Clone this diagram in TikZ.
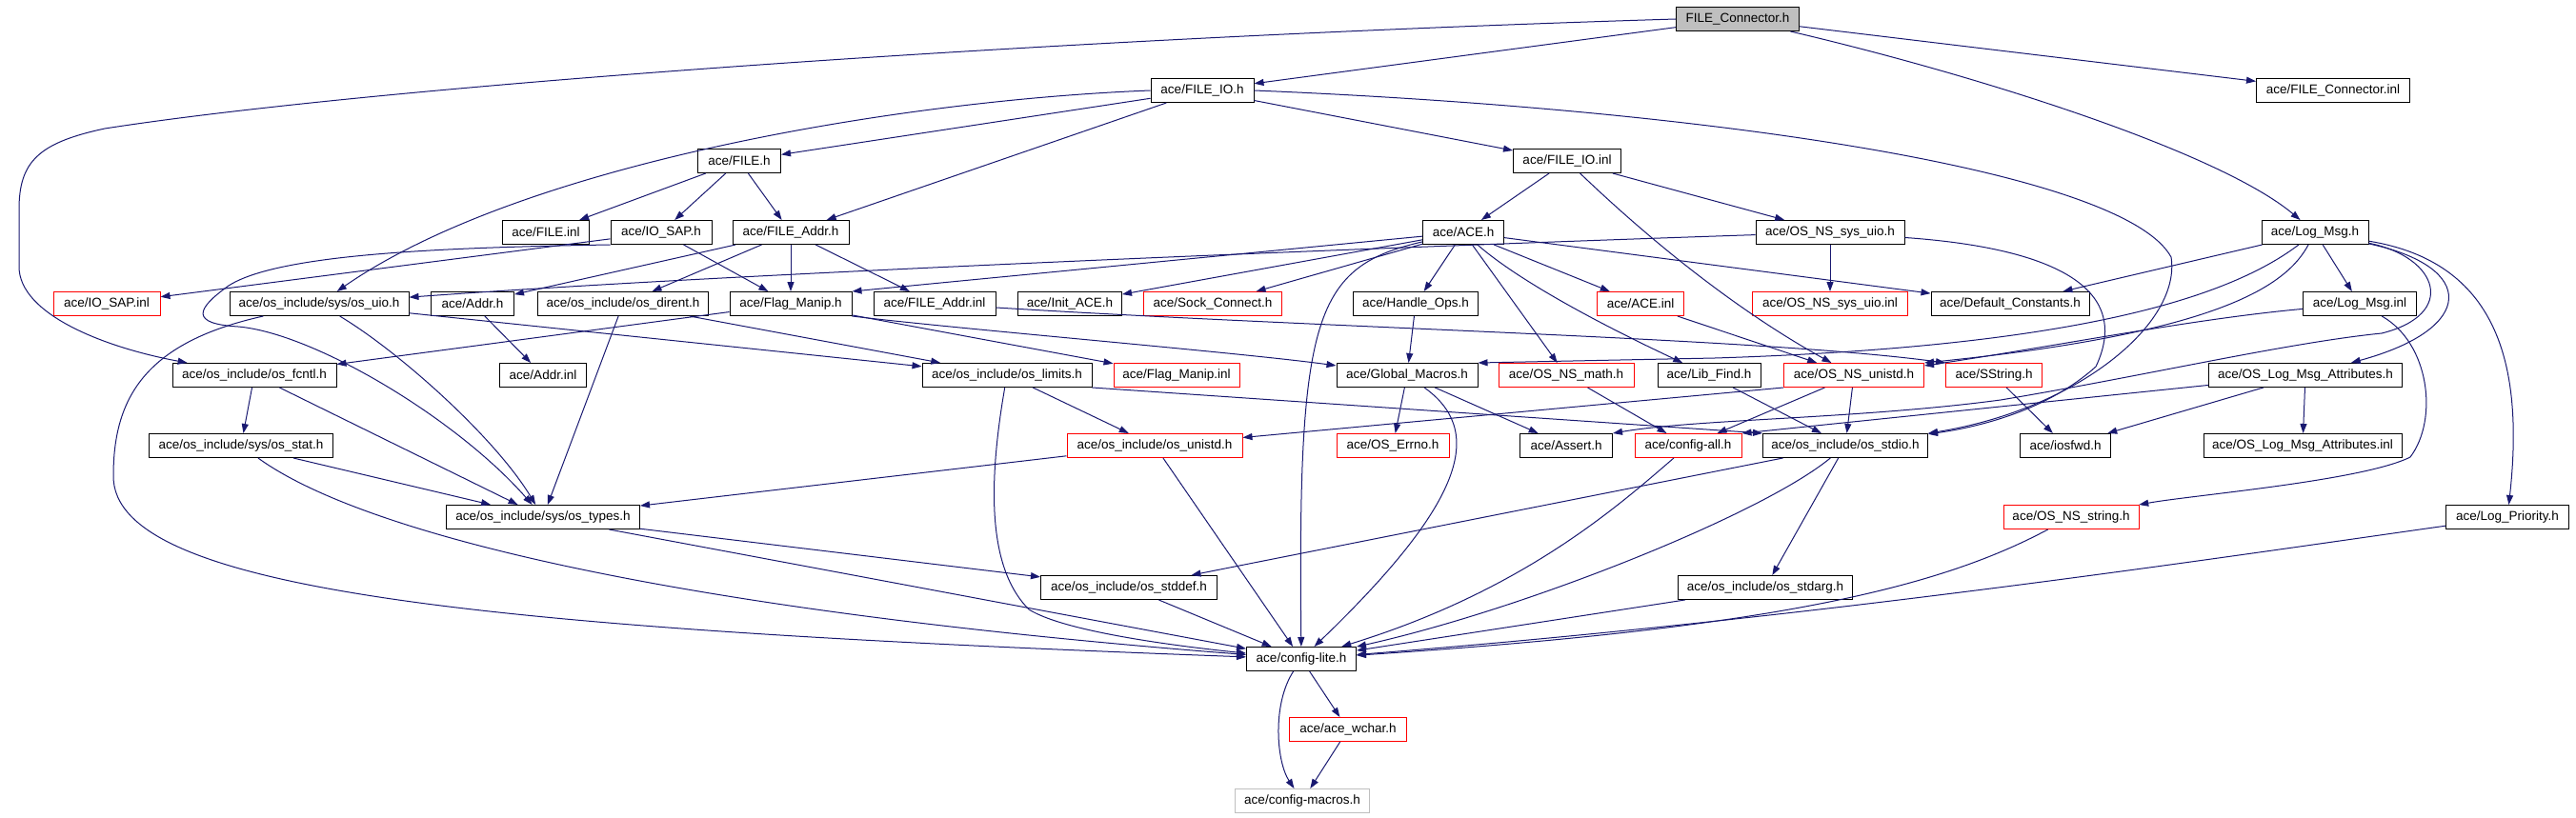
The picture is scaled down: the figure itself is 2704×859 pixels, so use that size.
\documentclass[tikz,border=0pt]{standalone}
\usepackage{fontspec}
\setmainfont{Liberation Sans}
\usetikzlibrary{arrows.meta}
\definecolor{incblue}{HTML}{191970}
\definecolor{rootgrey}{HTML}{BFBFBF}

\begin{document}
\begin{tikzpicture}[x=1pt, y=-1pt,
    box/.style={draw=black, line width=1pt, minimum height=25, inner sep=0pt,
                font=\fontsize{13.5}{16}\selectfont},
    rootbox/.style={box, fill=rootgrey},
    redbox/.style={box, draw=red},
    greybox/.style={box, draw=rootgrey},
    inc/.style={draw=incblue, line width=1pt, -{Triangle[length=10pt, width=7pt]}}]
\useasboundingbox (0,0) rectangle (2704,859);

%%   kw   [style, width]   (name)   at (x, y)   {text}
    \node[rootbox, minimum width=129] (fc)       at (1824, 20)  {FILE\_Connector.h};

    \node[box, minimum width=108]     (fio)      at (1262, 95)  {ace/FILE\_IO.h};
    \node[box, minimum width=161]     (fcinl)    at (2449, 95)  {ace/FILE\_Connector.inl};

    \node[box, minimum width=87]      (fileh)    at (776, 169)  {ace/FILE.h};
    \node[box, minimum width=113]     (fioinl)   at (1645, 169) {ace/FILE\_IO.inl};

    \node[box, minimum width=91]      (fileinl)  at (573, 244)  {ace/FILE.inl};
    \node[box, minimum width=106]     (iosap)    at (694, 244)  {ace/IO\_SAP.h};
    \node[box, minimum width=122]     (faddr)    at (830, 244)  {ace/FILE\_Addr.h};
    \node[box, minimum width=85]      (ace)      at (1536, 244) {ace/ACE.h};
    \node[box, minimum width=156]     (nssysuio) at (1921, 244) {ace/OS\_NS\_sys\_uio.h};
    \node[box, minimum width=112]     (logmsg)   at (2430, 244) {ace/Log\_Msg.h};

    \node[redbox, minimum width=112]  (iosapinl) at (112, 319)  {ace/IO\_SAP.inl};
    \node[box, minimum width=188]     (uio)      at (335, 319)  {ace/os\_include/sys/os\_uio.h};
    \node[box, minimum width=87]      (addr)     at (496, 319)  {ace/Addr.h};
    \node[box, minimum width=179]     (dirent)   at (654, 319)  {ace/os\_include/os\_dirent.h};
    \node[box, minimum width=128]     (flag)     at (830, 319)  {ace/Flag\_Manip.h};
    \node[box, minimum width=128]     (faddrinl) at (981, 319)  {ace/FILE\_Addr.inl};
    \node[box, minimum width=109]     (initace)  at (1123, 319) {ace/Init\_ACE.h};
    \node[redbox, minimum width=145]  (sock)     at (1273, 319) {ace/Sock\_Connect.h};
    \node[box, minimum width=131]     (handle)   at (1486, 319) {ace/Handle\_Ops.h};
    \node[redbox, minimum width=91]   (aceinl)   at (1722, 319) {ace/ACE.inl};
    \node[redbox, minimum width=163]  (nssysuioinl) at (1921, 319) {ace/OS\_NS\_sys\_uio.inl};
    \node[box, minimum width=166]     (defconst) at (2110, 319) {ace/Default\_Constants.h};
    \node[box, minimum width=119]     (logmsginl) at (2477, 319) {ace/Log\_Msg.inl};

    \node[box, minimum width=172]     (fcntl)    at (267, 394)  {ace/os\_include/os\_fcntl.h};
    \node[box, minimum width=91]      (addrinl)  at (570, 394)  {ace/Addr.inl};
    \node[box, minimum width=178]     (lim)      at (1057, 394) {ace/os\_include/os\_limits.h};
    \node[redbox, minimum width=132]  (flaginl)  at (1235, 394) {ace/Flag\_Manip.inl};
    \node[box, minimum width=148]     (global)   at (1477, 394) {ace/Global\_Macros.h};
    \node[redbox, minimum width=142]  (nsmath)   at (1644, 394) {ace/OS\_NS\_math.h};
    \node[box, minimum width=108]     (libfind)  at (1794, 394) {ace/Lib\_Find.h};
    \node[redbox, minimum width=147]  (nsunistd) at (1946, 394) {ace/OS\_NS\_unistd.h};
    \node[redbox, minimum width=101]  (sstring)  at (2093, 394) {ace/SString.h};
    \node[box, minimum width=203]     (osattr)   at (2420, 394) {ace/OS\_Log\_Msg\_Attributes.h};

    \node[box, minimum width=193]     (stat)     at (253, 468)  {ace/os\_include/sys/os\_stat.h};
    \node[redbox, minimum width=184]  (unistd)   at (1212, 468) {ace/os\_include/os\_unistd.h};
    \node[redbox, minimum width=118]  (errno)    at (1462, 468) {ace/OS\_Errno.h};
    \node[box, minimum width=97]      (assert)   at (1644, 468) {ace/Assert.h};
    \node[redbox, minimum width=112]  (configall) at (1772, 468) {ace/config-all.h};
    \node[box, minimum width=173]     (stdio)    at (1937, 468) {ace/os\_include/os\_stdio.h};
    \node[box, minimum width=95]      (iosfwd)   at (2168, 468) {ace/iosfwd.h};
    \node[box, minimum width=208]     (osattrinl) at (2417, 468) {ace/OS\_Log\_Msg\_Attributes.inl};

    \node[box, minimum width=203]     (types)    at (570, 543)  {ace/os\_include/sys/os\_types.h};
    \node[redbox, minimum width=142]  (nsstring) at (2174, 543) {ace/OS\_NS\_string.h};
    \node[box, minimum width=129]     (logprio)  at (2632, 543) {ace/Log\_Priority.h};

    \node[box, minimum width=185]     (stddef)   at (1185, 617) {ace/os\_include/os\_stddef.h};
    \node[box, minimum width=183]     (stdarg)   at (1853, 617) {ace/os\_include/os\_stdarg.h};

    \node[box, minimum width=115]     (lite)     at (1366, 692) {ace/config-lite.h};
    \node[redbox, minimum width=123]  (wchar)    at (1415, 766) {ace/ace\_wchar.h};
    \node[greybox, minimum width=141] (macros)   at (1367, 841) {ace/config-macros.h};

%% includes of FILE_Connector.h
    \draw[inc] (fc) -- (fio);
    \draw[inc] (fc) -- (fcinl);
    \draw[inc] (fc) .. controls (2080, 80) and (2330, 160) .. (logmsg);
    \draw[inc] (fc.west) .. controls (1100, 40) and (400, 90) .. (110, 135)
        .. controls (40, 150) and (20, 170) .. (20, 220) -- (20, 280)
        .. controls (20, 330) and (110, 365) .. (fcntl);

%% includes of FILE_IO.h, FILE.h, FILE_IO.inl
    \draw[inc] (fio) -- (fileh);
    \draw[inc] (fio) -- (fioinl);
    \draw[inc] (fio) -- (faddr);
    \draw[inc] (fio.west) .. controls (950, 105) and (550, 170) .. (uio);
    \draw[inc] (fio.east) .. controls (1800, 115) and (2230, 180) .. (2279, 270)
        .. controls (2290, 340) and (2180, 430) .. (stdio.north east);
    \draw[inc] (fileh) -- (fileinl);
    \draw[inc] (fileh) -- (iosap);
    \draw[inc] (fileh) -- (faddr);
    \draw[inc] (fioinl) -- (ace);
    \draw[inc] (fioinl) -- (nssysuio);
    \draw[inc] (fioinl) .. controls (1740, 260) and (1830, 330) .. (nsunistd);

%% third row
    \draw[inc] (iosap) -- (iosapinl);
    \draw[inc] (iosap) -- (flag);
    \draw[inc] (iosap.south west) .. controls (450, 260) and (290, 268) .. (240, 300)
        .. controls (205, 325) and (200, 340) .. (250, 343)
        .. controls (330, 350) and (480, 440) .. (types);
    \draw[inc] (faddr) -- (addr);
    \draw[inc] (faddr) -- (dirent);
    \draw[inc] (faddr) -- (flag);
    \draw[inc] (faddr) -- (faddrinl);
    \draw[inc] (ace) -- (flag.north east);
    \draw[inc] (ace) -- (initace);
    \draw[inc] (ace) -- (sock);
    \draw[inc] (ace) -- (handle);
    \draw[inc] (ace) -- (aceinl);
    \draw[inc] (ace) -- (nsmath);
    \draw[inc] (ace) .. controls (1600, 300) and (1700, 350) .. (libfind);
    \draw[inc] (ace) -- (defconst);
    \draw[inc] (ace) .. controls (1380, 280) and (1362, 330) .. (lite);
    \draw[inc] (nssysuio) .. controls (1500, 258) and (800, 285) .. (uio);
    \draw[inc] (nssysuio) -- (nssysuioinl);
    \draw[inc] (nssysuio) .. controls (2150, 260) and (2240, 300) .. (2200, 385)
        .. controls (2150, 430) and (2080, 448) .. (stdio);
    \draw[inc] (logmsg) -- (defconst);
    \draw[inc] (logmsg) -- (logmsginl);
    \draw[inc] (logmsg) .. controls (2330, 320) and (2150, 365) .. (1800, 376)
        -- (global.north east);
    \draw[inc] (logmsg) .. controls (2400, 300) and (2330, 350) .. (nsunistd.north east);
    \draw[inc] (logmsg) .. controls (2600, 280) and (2600, 345) .. (osattr);
    \draw[inc] (logmsg) .. controls (2620, 275) and (2650, 380) .. (logprio);
    \draw[inc] (logmsg) .. controls (2560, 270) and (2580, 330) .. (2500, 350)
        .. controls (2400, 360) and (2250, 395) .. (2100, 420)
        .. controls (1950, 440) and (1780, 440) .. (assert.north east);

%% fourth row
    \draw[inc] (uio) -- (lim);
    \draw[inc] (uio) .. controls (420, 370) and (520, 460) .. (types);
    \draw[inc] (uio) .. controls (150, 360) and (119, 420) .. (119, 500)
        .. controls (119, 620) and (500, 660) .. (lite);
    \draw[inc] (addr) -- (addrinl);
    \draw[inc] (dirent) -- (lim);
    \draw[inc] (dirent) -- (types);
    \draw[inc] (flag) -- (fcntl);
    \draw[inc] (flag) -- (flaginl);
    \draw[inc] (flag.south east) .. controls (1000, 345) and (1300, 370) .. (global);
    \draw[inc] (faddrinl) .. controls (1400, 345) and (1850, 355) .. (sstring.north west);
    \draw[inc] (handle) -- (global);
    \draw[inc] (aceinl) -- (nsunistd);
    \draw[inc] (logmsginl) .. controls (2300, 335) and (2150, 365)
        .. ([yshift=-3pt]nsunistd.north east);
    \draw[inc] (logmsginl) .. controls (2550, 360) and (2560, 440) .. (2530, 480)
        .. controls (2480, 505) and (2300, 520) .. (nsstring);

%% fifth row
    \draw[inc] (fcntl) -- (stat);
    \draw[inc] (fcntl) -- (types);
    \draw[inc] (lim) -- (unistd);
    \draw[inc] (lim.south east) -- (stdio.north west);
    \draw[inc] (lim) .. controls (1035, 520) and (1040, 600) .. (1080, 640)
        .. controls (1120, 665) and (1250, 680) .. (lite);
    \draw[inc] (global) -- (errno);
    \draw[inc] (global) -- (assert);
    \draw[inc] (global) .. controls (1555, 450) and (1545, 520) .. (lite);
    \draw[inc] (nsmath) -- (configall);
    \draw[inc] (libfind) -- (stdio);
    \draw[inc] (nsunistd.south west) -- (unistd);
    \draw[inc] (nsunistd) -- (configall);
    \draw[inc] (nsunistd) -- (stdio);
    \draw[inc] (sstring) -- (iosfwd);
    \draw[inc] (osattr) -- (configall.north east);
    \draw[inc] (osattr) -- (iosfwd);
    \draw[inc] (osattr) -- (osattrinl);

%% lower rows
    \draw[inc] (stat) -- (types);
    \draw[inc] (stat) .. controls (380, 560) and (700, 640) .. (lite);
    \draw[inc] (unistd) -- (types);
    \draw[inc] (unistd) -- (lite);
    \draw[inc] (configall) .. controls (1700, 530) and (1600, 620) .. (lite);
    \draw[inc] (stdio) -- (stddef);
    \draw[inc] (stdio) -- (stdarg);
    \draw[inc] (stdio) .. controls (1850, 540) and (1600, 640) .. (lite);
    \draw[inc] (types) -- (stddef);
    \draw[inc] (types) -- (lite);
    \draw[inc] (nsstring) .. controls (2030, 620) and (1850, 660) .. (lite);
    \draw[inc] (logprio) .. controls (2300, 590) and (1900, 650) .. (lite);
    \draw[inc] (stddef) -- (lite);
    \draw[inc] (stdarg) -- (lite);
    \draw[inc] (lite) -- (wchar);
    \draw[inc] (lite) .. controls (1335, 740) and (1340, 800) .. (macros);
    \draw[inc] (wchar) -- (macros);
\end{tikzpicture}
\end{document}
